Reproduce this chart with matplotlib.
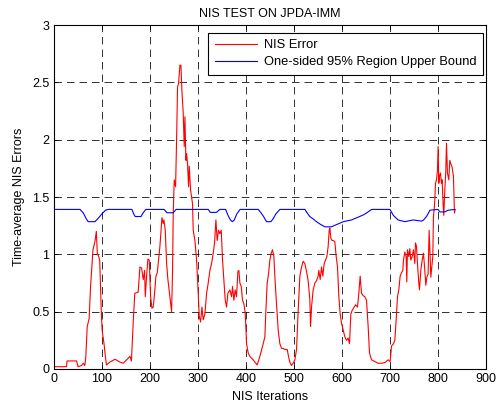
import matplotlib
matplotlib.use('Agg')
import matplotlib.pyplot as plt

plt.rcParams['font.family'] = ['Liberation Sans', 'DejaVu Sans']

# NIS error curve (iteration, value)
nis_x = [1, 27, 28, 48, 51, 58, 62, 65, 67, 70, 74, 77, 82, 86, 89, 91, 94, 96,
         99, 101, 105, 107, 110, 117, 128, 138, 145, 153, 159, 162, 166, 169, 176,
         179.7, 183.2, 186.6, 189.4, 190.8, 193.6, 196.3, 199.1, 201.9, 204.7, 207.4,
         210.2, 213, 215.8, 218.5, 221.3, 224.1, 225.5, 228.2, 229.6, 232.4, 235.2,
         237.9, 242.1, 245.6, 247.6, 249, 251.1, 253.9, 256, 258, 260.1, 262.9, 265,
         267, 269.8, 271.9, 273.3, 275.4, 276.8, 278.8, 280.9, 282.3, 285.1, 289.2,
         290.6, 294.1, 297.6, 301, 303.1, 305.9, 308.7, 311.4, 314.9, 318.4, 321.8,
         325.3, 328.8, 332.2, 335, 337.8, 340.5, 343.3, 346.1, 348.9, 351.6, 354.4,
         357.2, 360, 362.7, 366.9, 370.4, 372.4, 375.2, 378, 380.8, 383.5, 385.6,
         387.7, 390.5, 393.2, 396, 398.8, 401.6, 405, 408.5, 415.4, 423.7, 429.3,
         436.2, 439.7, 441.8, 444.5, 447.3, 450.1, 452.9, 455.6, 458.4, 461.2, 464,
         467.4, 470.9, 474.4, 477.8, 481.3, 486.1, 488.9, 491.7, 495.2, 498.6, 502.1,
         505.6, 509, 512.5, 516, 519.4, 522.9, 526.4, 529.8, 533.3, 534.7, 536.8,
         540.2, 543.7, 547.2, 550.6, 552, 554.8, 557.6, 560.3, 563.1, 565.9, 568.7,
         571.4, 573.5, 574.9, 577, 579.8, 582.5, 585.3, 588.1, 590.9, 593.6, 596.4,
         599.2, 602.6, 606.1, 609.6, 613, 615.8, 618.6, 621.3, 625.5, 628.3, 632.4,
         635.2, 638, 640.8, 644.2, 647.7, 651.2, 654.6, 657.4, 661.6, 668.5, 675.4,
         682.4, 689.3, 696.2, 700.4, 703.2, 707.3, 710.1, 712.9, 715.6, 718.4, 721.2,
         724, 726.7, 728.1, 730.9, 733.7, 735, 736.4, 739.2, 741.3, 743.4, 746.2,
         748.9, 751.7, 753.1, 755.2, 757.2, 760, 761.4, 764.2, 767, 769.7, 772.5,
         774.6, 776.7, 779.4, 781.5, 783.6, 785, 786.4, 789.1, 790.5, 791.9, 793.3,
         794.7, 796.8, 798.8, 800.2, 801.6, 803, 805.1, 807.2, 808.5, 810.6, 812,
         814.1, 816.2, 817.6, 819.6, 822.4, 824.5, 826.6, 829.3, 832.1, 833.5, 834.2,
         835.6]
nis_y = [0.02, 0.02, 0.07, 0.07, 0.02, 0.03, 0.05, 0.03, 0.1, 0.37, 0.44, 0.72, 1.04,
         1.11, 1.2, 1.01, 0.98, 0.95, 0.54, 0.34, 0.22, 0.14, 0.035, 0.06, 0.085,
         0.06, 0.05, 0.085, 0.11, 0.07, 0.43, 0.66, 0.67,
         0.89, 0.88, 0.78, 0.86, 0.63, 0.81, 0.96, 0.95, 0.63, 0.53, 0.54,
         0.66, 0.81, 0.84, 0.95, 1.07, 1.24, 1.32, 1.27, 1.3, 1.21, 0.92,
         0.78, 0.63, 0.5, 0.86, 1.36, 1.65, 1.59, 2.0, 2.46, 2.49, 2.65, 2.65,
         2.43, 2.23, 1.94, 2.2, 1.82, 1.88, 1.79, 1.59, 1.77, 1.56, 1.44,
         1.21, 1.12, 0.95, 0.66, 0.46, 0.41, 0.54, 0.43, 0.48, 0.66, 0.75,
         0.86, 0.92, 1.01, 1.1, 1.3, 1.12, 1.21, 1.18, 1.21, 0.95, 0.78,
         0.6, 0.54, 0.66, 0.69, 0.63, 0.72, 0.6, 0.69, 0.63, 0.85, 0.86,
         0.75, 0.72, 0.6, 0.57, 0.49, 0.22, 0.14, 0.11, 0.08, 0.035, 0.11,
         0.22, 0.28, 0.51, 0.75, 0.83, 0.95, 1.01, 1.04, 0.98, 0.75, 0.57,
         0.34, 0.22, 0.18, 0.18, 0.17, 0.17, 0.11, 0.06, 0.03, 0.05, 0.08,
         0.17, 0.51, 0.81, 0.89, 0.94, 0.92, 0.85, 0.77, 0.6, 0.37, 0.54,
         0.69, 0.75, 0.77, 0.81, 0.86, 0.78, 0.89, 0.81, 0.92, 0.95, 0.98,
         1.07, 1.21, 1.23, 1.14, 1.12, 1.12, 1.11, 0.98, 0.89, 0.63, 0.48,
         0.4, 0.34, 0.28, 0.25, 0.27, 0.22, 0.48, 0.51, 0.54, 0.56, 0.54,
         0.66, 0.81, 0.66, 0.64, 0.63, 0.6, 0.37, 0.14, 0.08, 0.065, 0.05,
         0.05, 0.056, 0.08, 0.065, 0.2, 0.22, 0.25, 0.43, 0.63, 0.69, 0.81,
         0.84, 0.86, 0.95, 1.02, 0.98, 0.76, 1.04, 0.98, 1.05, 0.95, 0.98,
         1.04, 0.92, 1.1, 1.07, 0.92, 0.75, 0.69, 0.86, 0.95, 1.01, 0.86,
         0.73, 0.8, 0.83, 1.21, 0.98, 0.8, 0.86, 0.98, 1.33, 1.39, 1.47,
         1.62, 1.65, 1.73, 1.94, 1.62, 1.68, 1.71, 1.62, 1.65, 1.44, 1.34,
         1.56, 1.73, 1.97, 1.71, 1.65, 1.82, 1.79, 1.76, 1.68, 1.47, 1.36,
         1.39]

# one-sided 95% upper bound
bound_x = [1, 55, 62, 68, 72, 86, 92, 100, 108, 114, 163, 167, 170, 182, 186, 192,
           230, 236, 249, 255, 322, 326, 339, 346, 358, 363, 368, 372, 376, 381, 388,
           426, 432, 437, 443, 452, 457, 462, 471, 523, 528, 533, 540, 547, 556, 565,
           578, 589, 603, 620, 637, 645, 651, 656, 662, 700, 703, 707, 712, 717, 731,
           748, 766, 770, 776, 780, 783, 800, 804, 814, 821, 835]
bound_y = [1.392, 1.392, 1.36, 1.31, 1.285, 1.285, 1.31, 1.35, 1.385, 1.392, 1.392,
           1.35, 1.33, 1.33, 1.36, 1.392, 1.392, 1.363, 1.363, 1.392, 1.392, 1.366,
           1.366, 1.392, 1.392, 1.34, 1.30, 1.285, 1.3, 1.35, 1.392, 1.392, 1.36, 1.33,
           1.285, 1.285, 1.31, 1.35, 1.392, 1.392, 1.36, 1.33, 1.31, 1.285, 1.26, 1.24,
           1.24, 1.26, 1.285, 1.3, 1.33, 1.345, 1.36, 1.375, 1.392, 1.392, 1.37, 1.34,
           1.32, 1.3, 1.285, 1.3, 1.29, 1.3, 1.33, 1.36, 1.385, 1.392, 1.37, 1.37,
           1.385, 1.392]

x_ticks = [0, 100, 200, 300, 400, 500, 600, 700, 800, 900]
y_ticks = [0, 0.5, 1, 1.5, 2, 2.5, 3]
y_ticklabels = ['0', '0.5', '1', '1.5', '2', '2.5', '3']

fig = plt.figure(figsize=(4.96, 4.07), dpi=100)
ax = fig.add_axes([0.108, 0.0934, 0.872, 0.845])

ax.plot(nis_x, nis_y, color='#ff0000', lw=0.8, label='NIS Error')
ax.plot(bound_x, bound_y, color='#0000ff', lw=0.8, label='One-sided 95% Region Upper Bound')

ax.set_xlim(0, 900)
ax.set_ylim(0, 3)
ax.set_xticks(x_ticks)
ax.set_yticks(y_ticks)
ax.set_yticklabels(y_ticklabels)
ax.tick_params(direction='in', length=3, width=0.6, top=True, right=True,
               labelsize=9, pad=3)
ax.grid(True, color='#111111', lw=0.6, linestyle=(0, (9, 6)))
for s in ax.spines.values():
    s.set_linewidth(0.8)

ax.set_title('NIS TEST ON JPDA-IMM', fontsize=9, pad=6)
ax.set_xlabel('NIS Iterations', fontsize=9, labelpad=4)
ax.set_ylabel('Time-average NIS Errors', fontsize=9, labelpad=5)

leg = ax.legend(loc='upper right', bbox_to_anchor=(0.992, 0.977), borderaxespad=0,
                fontsize=9.3, fancybox=False, framealpha=1, edgecolor='black',
                handlelength=3.3, handletextpad=0.5, labelspacing=0.35,
                borderpad=0.5)
leg.get_frame().set_linewidth(0.8)

fig.savefig('out.png', dpi=100)
